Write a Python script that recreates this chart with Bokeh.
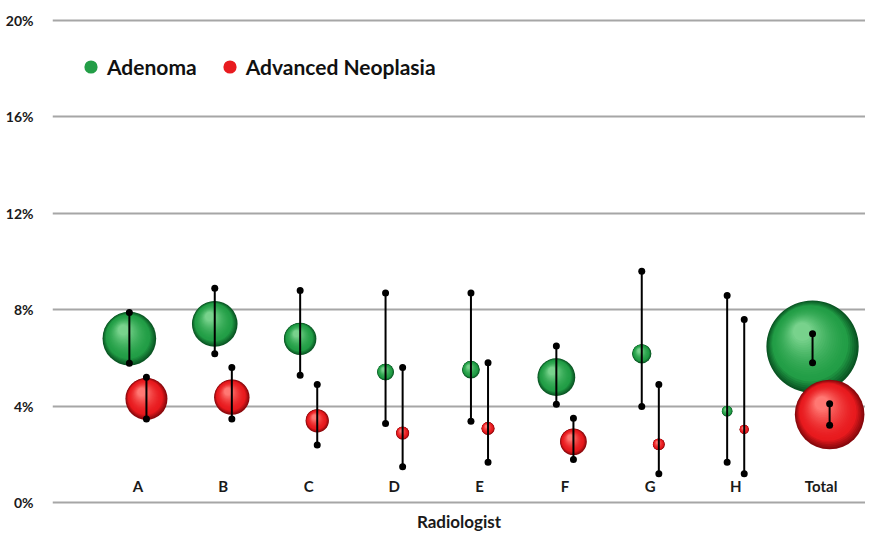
import numpy as np
from bokeh.plotting import figure
from bokeh.models import (ColumnDataSource, FixedTicker, PrintfTickFormatter,
                          Legend, LegendItem, Range1d)
from bokeh.core.properties import value
from bokeh.embed import file_html
from bokeh.resources import INLINE

# ---------------- data ----------------
categories = ["A", "B", "C", "D", "E", "F", "G", "H", "Total"]

adenoma_rate = [6.80, 7.41, 6.79, 5.41, 5.51, 5.20, 6.17, 3.79, 6.47]
adenoma_lo   = [5.78, 6.17, 5.28, 3.28, 3.37, 4.08, 3.98, 1.67, 5.80]
adenoma_hi   = [7.88, 8.89, 8.80, 8.69, 8.69, 6.49, 9.60, 8.59, 7.00]
adenoma_n    = [101, 73, 37, 10, 11, 50, 13, 4, 299]

adv_rate = [4.30, 4.37, 3.39, 2.88, 3.07, 2.52, 2.41, 3.03, 3.65]
adv_lo   = [3.46, 3.46, 2.39, 1.48, 1.67, 1.78, 1.19, 1.19, 3.20]
adv_hi   = [5.20, 5.60, 4.90, 5.60, 5.80, 3.50, 4.90, 7.59, 4.10]
adv_n    = [62, 44, 19, 6, 6, 25, 5, 3, 170]

y_ticks = [0, 4, 8, 12, 16, 20]
x_title = "Radiologist"

# ---------------- layout ----------------
BL, BT = 52, 14
FW, FH = 813, 494
X0, X1 = 0.0, 9.52
Y0, Y1 = -0.25, 20.25
PX_X = FW / (X1 - X0)
PX_Y = FH / (Y1 - Y0)
FONT = "Lato"

p = figure(frame_width=FW, frame_height=FH, output_backend="svg",
           toolbar_location=None,
           x_range=Range1d(X0, X1), y_range=Range1d(Y0, Y1),
           min_border_left=BL, min_border_right=0, min_border_top=BT,
           min_border_bottom=0)
p.outline_line_color = None
p.background_fill_color = "white"
p.border_fill_color = "white"

p.xgrid.visible = False
p.ygrid.ticker = FixedTicker(ticks=y_ticks)
p.ygrid.grid_line_color = "#a6a6a6"
p.ygrid.grid_line_width = 2

p.yaxis.ticker = FixedTicker(ticks=y_ticks)
p.yaxis.formatter = PrintfTickFormatter(format="%d%%")
p.yaxis.axis_line_color = None
p.yaxis.major_tick_line_color = None
p.yaxis.minor_tick_line_color = None
p.yaxis.major_label_standoff = 13
p.yaxis.major_label_text_font = FONT
p.yaxis.major_label_text_font_style = "bold"
p.yaxis.major_label_text_font_size = "14px"
p.yaxis.major_label_text_color = "#1a1a1a"

p.xaxis.ticker = FixedTicker(ticks=[])
p.xaxis.axis_line_color = None
p.xaxis.major_tick_line_color = None
p.xaxis.minor_tick_line_color = None
p.xaxis.major_tick_out = 0
p.xaxis.major_tick_in = 0
p.xaxis.major_label_standoff = 0
p.xaxis.axis_label = x_title
p.xaxis.axis_label_standoff = 2
p.xaxis.axis_label_text_font = FONT
p.xaxis.axis_label_text_font_style = "bold"
p.xaxis.axis_label_text_font_size = "17px"
p.xaxis.axis_label_text_color = "#1a1a1a"

xc = np.arange(1, len(categories) + 1, dtype=float)
OFF = 0.1
SIZE_K = 5.34  # px of diameter per sqrt(count)


def mix(c1, c2, t):
    t = min(max(t, 0.0), 1.0)
    return "#%02x%02x%02x" % tuple(int(round(a + (b - a) * t)) for a, b in zip(c1, c2))


def sphere(xs, ys, counts, dark, base, light):
    d = SIZE_K * np.sqrt(np.array(counts, dtype=float))
    n = 24
    legend_r = None
    for k in range(n):
        t = k / (n - 1)
        frac = 1 - 0.8 * t
        if t < 0.22:
            col = mix(dark, base, t / 0.22)
        else:
            col = mix(base, light, ((t - 0.22) / 0.78) ** 1.6)
        shift = (1 - frac) * d
        sx = np.array(xs) - shift * 0.14 / PX_X
        sy = np.array(ys) + shift * 0.2 / PX_Y
        src = ColumnDataSource(dict(x=sx, y=sy, s=d * frac))
        r = p.scatter("x", "y", size="s", source=src, fill_color=col,
                      line_color=None, fill_alpha=1.0)
        if legend_r is None and t >= 0.22:
            legend_r = r
    return legend_r


def errbars(xs, lo, hi):
    src = ColumnDataSource(dict(x=xs, lo=lo, hi=hi))
    p.segment(x0="x", y0="lo", x1="x", y1="hi", source=src,
              line_color="black", line_width=2)
    p.scatter("x", "lo", source=src, size=7, fill_color="black", line_color=None)
    p.scatter("x", "hi", source=src, size=7, fill_color="black", line_color=None)


xg = xc - OFF
xr = xc + OFF
g_leg = sphere(xg, adenoma_rate, adenoma_n, (10, 85, 35), (34, 158, 70), (120, 210, 140))
errbars(xg, adenoma_lo, adenoma_hi)
r_leg = sphere(xr, adv_rate, adv_n, (135, 8, 12), (232, 26, 30), (255, 120, 115))
errbars(xr, adv_lo, adv_hi)

# category labels inside plot just above 0%
lab_src = ColumnDataSource(dict(x=xc, y=[0] * len(categories), t=categories))
p.text("x", "y", text="t", source=lab_src, text_align="center",
       text_baseline="middle", y_offset=-16, text_font=value(FONT),
       text_font_style="bold", text_font_size="15px", text_color="#1a1a1a")

# legend
legend = Legend(items=[LegendItem(label="Adenoma", renderers=[g_leg], index=0),
                       LegendItem(label="Advanced Neoplasia", renderers=[r_leg], index=0)],
                orientation="horizontal", location=(22, 425),
                glyph_width=33, glyph_height=33, label_standoff=0,
                spacing=16, padding=0, margin=0,
                border_line_color=None, background_fill_alpha=0,
                label_text_font=FONT, label_text_font_style="bold",
                label_text_font_size="21px", label_text_color="#111111")
p.add_layout(legend)

open("out.html", "w").write(file_html(p, INLINE))
